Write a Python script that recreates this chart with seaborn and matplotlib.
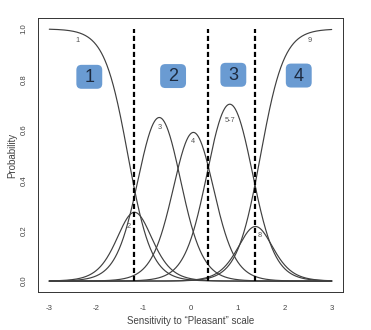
import numpy as np
import pandas as pd
import matplotlib
matplotlib.use("Agg")
import matplotlib.pyplot as plt
import seaborn as sns
from matplotlib.patches import FancyBboxPatch

# Graded-response-model parameters
discrimination = 4.0
thresholds = [-1.33, -1.05, -0.277, 0.40, 1.27, 1.49]
category_labels = ["1", "2", "3", "4", "5-7", "8", "9"]
label_x = [-2.40, -1.31, -0.65, 0.06, 0.85, 1.47, 2.54]
label_y = [0.955, 0.215, 0.61, 0.555, 0.635, 0.18, 0.955]
cut_points = [-1.19, 0.376, 1.376]
region_labels = ["1", "2", "3", "4"]
region_x = [-2.15, -0.37, 0.91, 2.30]
region_y = [0.81, 0.813, 0.818, 0.815]
x_ticks = [-3, -2, -1, 0, 1, 2, 3]
y_ticks = [0.0, 0.2, 0.4, 0.6, 0.8, 1.0]

sns.set_style("white")
plt.rcParams["font.family"] = ["Liberation Sans", "DejaVu Sans"]

theta = np.linspace(-3, 3, 801)
cum = [np.ones_like(theta)]
for b in thresholds:
    cum.append(1.0 / (1.0 + np.exp(-discrimination * (theta - b))))
cum.append(np.zeros_like(theta))
rows = []
for k, lab in enumerate(category_labels):
    p = cum[k] - cum[k + 1]
    rows.append(pd.DataFrame({"theta": theta, "prob": p, "category": lab}))
df = pd.concat(rows, ignore_index=True)

fig = plt.figure(figsize=(3.71, 3.30), dpi=100)
ax = fig.add_axes([38 / 371, 1 - 292 / 330, (343 - 38) / 371, (292 - 18) / 330])

sns.lineplot(data=df, x="theta", y="prob", hue="category",
             palette=["#404040"] * len(category_labels), legend=False,
             linewidth=0.85, ax=ax, estimator=None)

for c in cut_points:
    ax.plot([c, c], [0, 1], color="black", lw=1.6, ls=(0, (2.3, 1.3)))

for lab, lx, ly in zip(category_labels, label_x, label_y):
    ax.text(lx, ly, lab, fontsize=5.3, color="#555555", ha="center", va="center")

asp = (305 / 6.48) / (274 / 1.08)
bw, bh = 0.55, 0.095
for lab, rx, ry in zip(region_labels, region_x, region_y):
    patch = FancyBboxPatch((rx - bw / 2, ry - bh / 2), bw, bh,
                           boxstyle="round,pad=0,rounding_size=0.11",
                           mutation_aspect=asp, fc="#6A9BD2", ec="none", zorder=3)
    ax.add_patch(patch)
    ax.text(rx, ry - 0.002, lab, fontsize=13, color="#1d2b40", ha="center",
            va="center", zorder=4)

ax.set_xlim(-3.24, 3.24)
ax.set_ylim(-0.0432, 1.0432)
ax.set_xticks(x_ticks)
ax.set_xticklabels([str(t) for t in x_ticks])
ax.set_yticks(y_ticks)
ax.set_yticklabels([f"{t:.1f}" for t in y_ticks], rotation=90, va="center")
ax.tick_params(direction="out", length=3.6, width=0.6, color="#333333",
               labelcolor="#444444", labelsize=5.6)
ax.tick_params(axis="x", pad=5.5)
ax.tick_params(axis="y", pad=4)
for s in ax.spines.values():
    s.set_visible(True)
    s.set_linewidth(0.7)
    s.set_color("#333333")
ax.set_xlabel("Sensitivity to \u201cPleasant\u201d scale", fontsize=7, color="#444444", labelpad=3)
ax.set_ylabel("Probability", fontsize=7, color="#444444", labelpad=2.5)

fig.savefig("out.png", dpi=100)
